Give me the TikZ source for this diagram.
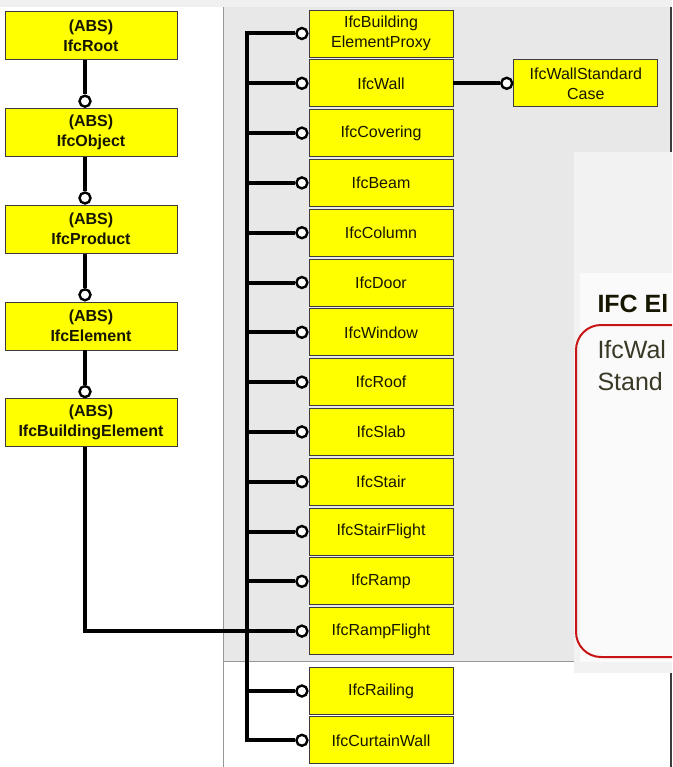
\documentclass[tikz,border=0pt]{standalone}
\usepackage{fontspec}
\setmainfont{Liberation Sans}
\usetikzlibrary{positioning}

\definecolor{ifcyellow}{RGB}{255,255,0}
\definecolor{boxline}{RGB}{60,60,60}
\definecolor{ink}{RGB}{22,22,0}
\definecolor{topgray}{RGB}{240,240,240}
\definecolor{panelgray}{RGB}{232,232,232}
\definecolor{edgegray}{RGB}{150,150,150}
\definecolor{popupgray}{RGB}{242,242,242}
\definecolor{popupwhite}{RGB}{251,250,250}
\definecolor{ifcred}{RGB}{200,20,20}

\begin{document}
\begin{tikzpicture}[x=1pt,y=-1pt,line width=1pt,align=center,
  abs/.style={rectangle,draw=boxline,fill=ifcyellow,line width=0.8pt,minimum width=172pt,minimum height=48pt,inner sep=1pt,text=ink,font=\fontsize{16}{20}\selectfont\bfseries},
  cls/.style={rectangle,draw=boxline,fill=ifcyellow,line width=0.8pt,minimum width=144pt,minimum height=47pt,inner sep=1pt,text=ink,font=\fontsize{16}{20}\selectfont},
  dot/.style={circle,draw,fill=white,line width=2.4pt,minimum size=11pt,inner sep=0pt},
  conn/.style={line width=4pt}]
  \useasboundingbox (0,0) rectangle (672,767);
  % window background
  \fill[topgray] (0,0) rectangle (672,7);
  \fill[panelgray] (223,7) rectangle (672,661);
  \draw[edgegray] (223,7) -- (223,767);
  \draw[edgegray] (223,661) -- (574,661);
  \draw[boxline,line width=1.5pt] (671,7) -- (671,767);
  \begin{scope}
    \clip (0,0) rectangle (672,767);
    \fill[popupgray] (574,152) rectangle (672,673);
    \fill[popupwhite] (580,273) rectangle (672,662);
    \draw[ifcred,line width=2pt,rounded corners=25pt] (576,325) rectangle (720,657);
    \node (hdr)   [anchor=base west,inner sep=0pt,text=ink,font=\fontsize{25}{28}\selectfont\bfseries] at (597,312) {IFC El};
    \node (wal1)  [anchor=base west,inner sep=0pt,text=ink!85,font=\fontsize{25}{28}\selectfont] at (597,358) {IfcWal};
    \node (wal2)  [anchor=base west,inner sep=0pt,text=ink!85,font=\fontsize{25}{28}\selectfont] at (597,390) {Stand};
  \end{scope}
  \coordinate (spine) at (85,0);
  \coordinate (bus)   at (247,0);
  % abstract supertypes
  \node (root)     [abs] at (91,35.5)                {(ABS)\\IfcRoot};
  \node (object)   [abs,below=48pt of root]          {(ABS)\\IfcObject};
  \node (product)  [abs,below=48pt of object]        {(ABS)\\IfcProduct};
  \node (element)  [abs,below=48pt of product]       {(ABS)\\IfcElement};
  \node (building) [abs,below=48pt of element]       {(ABS)\\IfcBuildingElement};
  % building element subtypes
  \node (proxy)       [cls] at (381,33.5)            {IfcBuilding\\ElementProxy};
  \node (wall)        [cls,below=2pt of proxy]       {IfcWall};
  \node (covering)    [cls,below=2pt of wall]        {IfcCovering};
  \node (beam)        [cls,below=2pt of covering]    {IfcBeam};
  \node (column)      [cls,below=2pt of beam]        {IfcColumn};
  \node (door)        [cls,below=2pt of column]      {IfcDoor};
  \node (window)      [cls,below=2pt of door]        {IfcWindow};
  \node (roof)        [cls,below=2pt of window]      {IfcRoof};
  \node (slab)        [cls,below=2pt of roof]        {IfcSlab};
  \node (stair)       [cls,below=2pt of slab]        {IfcStair};
  \node (stairflight) [cls,below=2pt of stair]       {IfcStairFlight};
  \node (ramp)        [cls,below=2pt of stairflight] {IfcRamp};
  \node (rampflight)  [cls,below=2pt of ramp]        {IfcRampFlight};
  \node (railing)     [cls] at (381,691)             {IfcRailing};
  \node (curtainwall) [cls,below=1.5pt of railing]   {IfcCurtainWall};
  \node (wallsc)      [cls,right=60pt of wall]       {IfcWallStandard\\Case};
  % connectors
  \foreach \n in {object,product,element,building}
    \node (c-\n) [dot,anchor=south] at (\n.north -| spine) {};
  \foreach \n in {proxy,wall,covering,beam,column,door,window,roof,slab,stair,stairflight,ramp,rampflight,railing,curtainwall,wallsc}
    \node (c-\n) [dot,left=0pt of \n] {};
  \foreach \a/\b in {root/object,object/product,product/element,element/building}
    \draw[conn] (\a.south -| spine) -- (c-\b);
  \draw[conn] (building.south -| spine) |- (c-rampflight);
  \draw[conn] (c-proxy) -| (bus |- c-curtainwall) -- (c-curtainwall);
  \foreach \n in {wall,covering,beam,column,door,window,roof,slab,stair,stairflight,ramp,rampflight,railing}
    \draw[conn] (bus |- c-\n) -- (c-\n);
  \draw[conn] (wall) -- (c-wallsc);
\end{tikzpicture}
\end{document}
